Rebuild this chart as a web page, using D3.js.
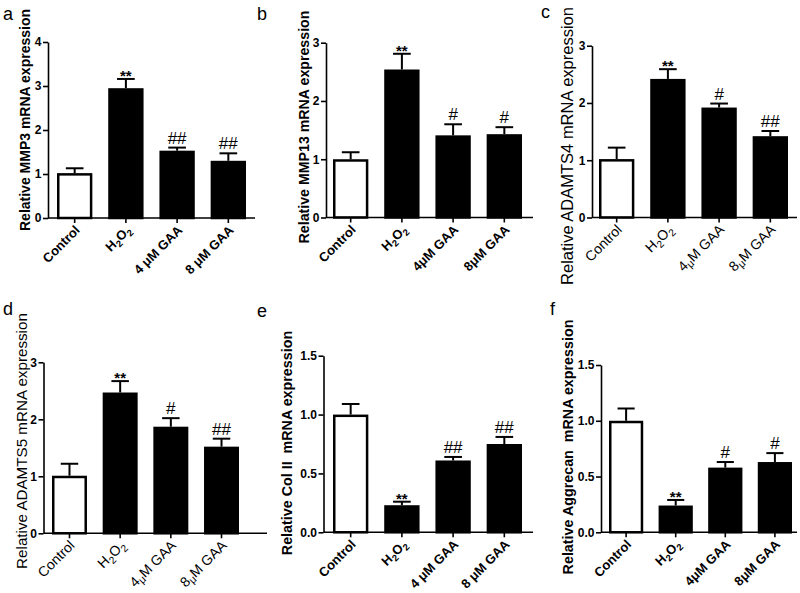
<!DOCTYPE html>
<html><head><meta charset="utf-8">
<script src="https://cdn.jsdelivr.net/npm/d3@7"></script>
<style>body{margin:0;background:#fff}svg{display:block}</style>
</head><body>
<script>
// ---- data ----
const categories = ["Control", "H2O2", "4μM GAA", "8μM GAA"];
const panelIds = ["a", "b", "c", "d", "e", "f"];
const yTitles = [
  "Relative MMP3 mRNA expression",
  "Relative MMP13 mRNA expression",
  "Relative ADAMTS4 mRNA expression",
  "Relative ADAMTS5 mRNA expression",
  "Relative Col II  mRNA expression",
  "Relative Aggrecan  mRNA expression"
];
// label text per panel ("_x" = subscript char, "^x" = small lowered char)
const labelsA = ["Control", "H_2O_2", "4 μM GAA", "8 μM GAA"];
const labelsB = ["Control", "H_2O_2", "4μM GAA", "8μM GAA"];
const labelsC = ["Control", "H_2O_2", "4^μM GAA", "8^μM GAA"];
const labelsD = ["Control", "H_2O_2", "4^μM GAA", "8^μM GAA"];
const labelsE = ["Control", "H_2O_2", "4 μM GAA", "8 μM GAA"];
const labelsF = ["Control", "H_2O_2", "4μM GAA", "8μM GAA"];

const meanA = [1.02, 2.95, 1.53, 1.30];
const errA  = [0.11, 0.21, 0.07, 0.17];
const sigA  = ["", "**", "##", "##"];
const meanB = [1.00, 2.54, 1.41, 1.43];
const errB  = [0.12, 0.27, 0.19, 0.12];
const sigB  = ["", "**", "#", "#"];
const meanC = [1.02, 2.42, 1.92, 1.42];
const errC  = [0.20, 0.17, 0.07, 0.09];
const sigC  = ["", "**", "#", "##"];
const meanD = [1.01, 2.47, 1.87, 1.52];
const errD  = [0.21, 0.20, 0.15, 0.14];
const sigD  = ["", "**", "#", "##"];
const meanE = [1.00, 0.23, 0.61, 0.75];
const errE  = [0.09, 0.03, 0.03, 0.06];
const sigE  = ["", "**", "##", "##"];
const meanF = [1.00, 0.24, 0.58, 0.63];
const errF  = [0.11, 0.05, 0.05, 0.08];
const sigF  = ["", "**", "#", "#"];

const ticks4 = [0, 1, 2, 3, 4];
const ticks3 = [0, 1, 2, 3];
const ticks15 = [0, 0.5, 1.0, 1.5];
const tickLabels4 = ["0", "1", "2", "3", "4"];
const tickLabels3 = ["0", "1", "2", "3"];
const tickLabels15 = ["0.0", "0.5", "1.0", "1.5"];

// ---- layout (positions/styles) ----
const layout = [
  {axisX:48,  axisEnd:255, yBot:218,   yTop:42,    b0:57,  b1:246, bold:true,  tx:25,  ty:120, ts:14,   lx:3,   ly:20,  xs:13},
  {axisX:326, axisEnd:533, yBot:217.5, yTop:42.7,  b0:333, b1:522, bold:true,  tx:304, ty:127, ts:14.2, lx:257, ly:20,  xs:13},
  {axisX:592, axisEnd:797, yBot:217.5, yTop:45.7,  b0:599, b1:788, bold:false, tx:567, ty:146, ts:16.5, lx:541, ly:18,  xs:14},
  {axisX:43.5,axisEnd:267, yBot:533.3, yTop:362.3, b0:52,  b1:239, bold:false, tx:22,  ty:441, ts:15.2, lx:3,   ly:315, xs:14},
  {axisX:323.5,axisEnd:533,yBot:532.3, yTop:355.7, b0:333, b1:522, bold:true,  tx:287, ty:443, ts:14.3, lx:257, ly:317, xs:13},
  {axisX:601, axisEnd:797, yBot:532.3, yTop:365,   b0:609, b1:792, bold:true,  tx:568, ty:447, ts:14.3, lx:550, ly:315, xs:13}
];

const panels = [
  {means:meanA, errs:errA, sigs:sigA, labels:labelsA, ticks:ticks4,  tickLabels:tickLabels4,  max:4},
  {means:meanB, errs:errB, sigs:sigB, labels:labelsB, ticks:ticks3,  tickLabels:tickLabels3,  max:3},
  {means:meanC, errs:errC, sigs:sigC, labels:labelsC, ticks:ticks3,  tickLabels:tickLabels3,  max:3},
  {means:meanD, errs:errD, sigs:sigD, labels:labelsD, ticks:ticks3,  tickLabels:tickLabels3,  max:3},
  {means:meanE, errs:errE, sigs:sigE, labels:labelsE, ticks:ticks15, tickLabels:tickLabels15, max:1.5},
  {means:meanF, errs:errF, sigs:sigF, labels:labelsF, ticks:ticks15, tickLabels:tickLabels15, max:1.5}
];

const FONT = "'Liberation Sans', Arial, Helvetica, sans-serif";
const svg = d3.select("body").append("svg").attr("width", 800).attr("height", 593)
  .style("font-family", FONT);

function writeLabel(textSel, str, size) {
  let i = 0;
  while (i < str.length) {
    const c = str[i];
    if (c === "_" && i + 1 < str.length) {
      textSel.append("tspan").attr("font-size", size * 0.72).attr("dy", size * 0.25).text(str[i + 1]);
      textSel.append("tspan").attr("dy", -size * 0.25).text("\u200B");
      i += 2;
    } else if (c === "^" && i + 1 < str.length) {
      textSel.append("tspan").attr("font-size", size * 0.75).attr("dy", size * 0.18).text(str[i + 1]);
      textSel.append("tspan").attr("dy", -size * 0.18).text("\u200B");
      i += 2;
    } else {
      let j = i;
      while (j < str.length && str[j] !== "_" && str[j] !== "^") j++;
      textSel.append("tspan").text(str.slice(i, j));
      i = j;
    }
  }
}

panels.forEach((p, k) => {
  const L = layout[k];
  const g = svg.append("g");
  const weight = L.bold ? "bold" : "normal";
  const x = d3.scaleBand().domain(categories).range([L.b0, L.b1]).paddingInner(0.31).paddingOuter(0);
  const y = d3.scaleLinear().domain([0, p.max]).range([L.yBot, L.yTop]);
  const bw = x.bandwidth();
  const rows = categories.map((c, i) => ({c, i, m: p.means[i], e: p.errs[i], s: p.sigs[i], lab: p.labels[i]}));

  // error bars (upper only)
  const eb = g.append("g").attr("stroke", "#000").attr("stroke-width", 2).attr("fill", "none");
  eb.selectAll("line.v").data(rows).join("line").attr("class", "v")
    .attr("x1", d => x(d.c) + bw / 2).attr("x2", d => x(d.c) + bw / 2)
    .attr("y1", d => y(d.m)).attr("y2", d => y(d.m + d.e));
  eb.selectAll("line.cap").data(rows).join("line").attr("class", "cap")
    .attr("x1", d => x(d.c) + bw / 4).attr("x2", d => x(d.c) + bw * 3 / 4)
    .attr("y1", d => y(d.m + d.e)).attr("y2", d => y(d.m + d.e));

  // bars
  g.selectAll("rect.bar").data(rows).join("rect").attr("class", "bar")
    .attr("x", d => x(d.c) + 1.25).attr("width", bw - 2.5)
    .attr("y", d => y(d.m) + 1.25).attr("height", d => y(0) - y(d.m) - 1.25)
    .attr("fill", d => d.i === 0 ? "#fff" : "#000")
    .attr("stroke", "#000").attr("stroke-width", 2.5);

  // significance marks
  g.selectAll("text.sig").data(rows.filter(d => d.s)).join("text").attr("class", "sig")
    .attr("x", d => x(d.c) + bw / 2)
    .attr("y", d => y(d.m + d.e) - (d.s[0] === "*" ? -2 : 4))
    .attr("text-anchor", "middle")
    .attr("font-size", d => d.s[0] === "*" ? 15 : 17)
    .attr("font-weight", d => d.s[0] === "*" ? "bold" : "normal")
    .text(d => d.s);

  // y axis
  const ya = g.append("g").attr("transform", `translate(${L.axisX},0)`)
    .call(d3.axisLeft(y).tickValues(p.ticks).tickSize(5).tickSizeOuter(0)
      .tickFormat((d, i) => p.tickLabels[i]));
  ya.select(".domain").attr("stroke-width", 1.6);
  ya.selectAll(".tick line").attr("stroke-width", 1.6);
  ya.selectAll(".tick text").attr("font-size", 12).attr("font-weight", "bold")
    .attr("font-family", FONT).attr("x", -6.5);

  // x axis
  const xa = g.append("g").attr("transform", `translate(0,${L.yBot})`)
    .call(d3.axisBottom(x).tickSize(5).tickSizeOuter(0));
  xa.select(".domain").attr("d", `M${L.axisX},0H${L.axisEnd}`).attr("stroke-width", 1.6);
  xa.selectAll(".tick line").attr("stroke-width", 1.6);
  xa.selectAll(".tick text").remove();
  g.selectAll("text.xl").data(rows).join("text").attr("class", "xl")
    .attr("text-anchor", "end")
    .attr("font-size", L.xs).attr("font-weight", weight)
    .attr("transform", d => `translate(${x(d.c) + bw / 2 + 6},${L.yBot + 13}) rotate(-45)`)
    .each(function (d) { writeLabel(d3.select(this), d.lab, L.xs); });

  // y title
  g.append("text").attr("text-anchor", "middle")
    .attr("transform", `translate(${L.tx},${L.ty}) rotate(-90)`)
    .attr("dy", "0.35em")
    .attr("font-size", L.ts).attr("font-weight", weight)
    .style("white-space", "pre")
    .text(yTitles[k]);

  // panel letter
  g.append("text").attr("x", L.lx).attr("y", L.ly).attr("font-size", 18).text(panelIds[k]);
});
</script>
</body></html>
